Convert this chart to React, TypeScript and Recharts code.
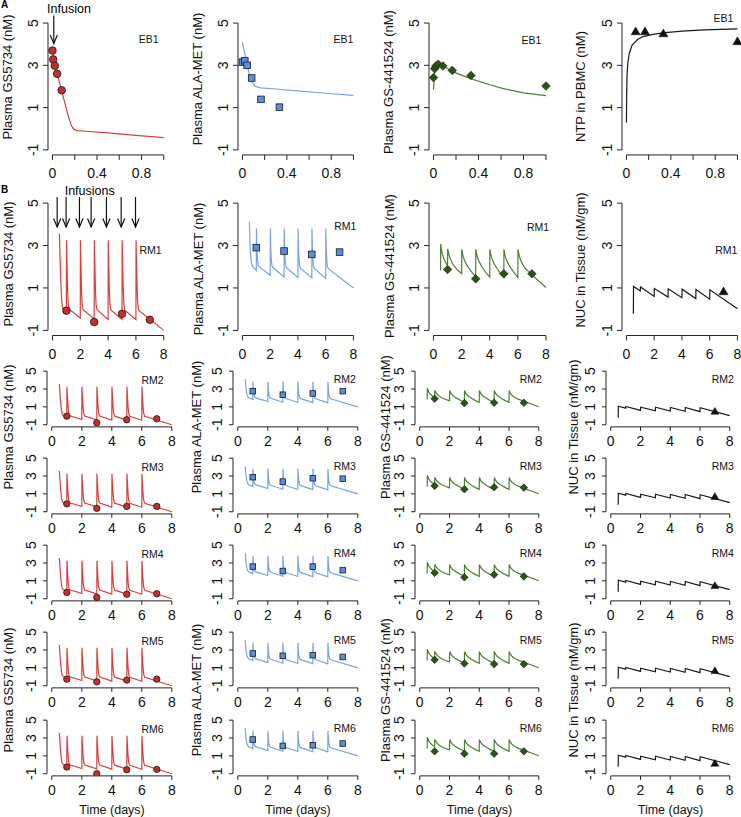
import React from "react";
import {
  ComposedChart,
  Line,
  Scatter,
  XAxis,
  YAxis,
  ReferenceLine,
  ReferenceDot,
} from "recharts";

const FONT = '"Liberation Sans", Arial, Helvetica, sans-serif';

// ---- A: EB1, single infusion (days vs log concentration) ----
const ebGsDays = [0, 0.007, 0.021, 0.042, 0.083];
const ebGsObs = [3.7, 3.28, 2.98, 2.6, 1.82];
const ebAlaDays = [0, 0.021, 0.042, 0.083, 0.167, 0.333];
const ebAlaObs = [3.15, 3.22, 3.0, 2.4, 1.39, 1.02];
const ebNucDays = [0, 0.01, 0.021, 0.042, 0.083, 0.167, 0.333, 1.0];
const ebNucObs = [2.42, 2.84, 2.97, 3.05, 2.97, 2.76, 2.52, 2.02];
const ebNtpDays = [0.083, 0.167, 0.333, 1.0];
const ebNtpObs = [4.6, 4.6, 4.5, 4.13];

const ebGsFit = [
  [0, 3.7], [0.02, 3.05], [0.05, 2.45], [0.08, 1.85], [0.11, 1.25], [0.14, 0.65],
  [0.17, 0.15], [0.19, -0.02], [0.22, -0.09], [0.3, -0.12], [0.5, -0.2], [0.75, -0.31], [1.0, -0.42],
];
const ebAlaFit = [
  [0, 4.1], [0.027, 3.4], [0.057, 2.68], [0.087, 2.21], [0.117, 2.0], [0.16, 1.93],
  [0.3, 1.88], [0.52, 1.78], [0.75, 1.68], [1.0, 1.58],
];
const ebNucFit = [
  [0, 1.85], [0.01, 2.7], [0.025, 2.95], [0.05, 3.02], [0.1, 2.92], [0.18, 2.68],
  [0.33, 2.37], [0.5, 2.08], [0.62, 1.9], [0.8, 1.7], [1.0, 1.57],
];
const ebNtpFit = [
  [0, 0.3], [0.002, 1.5], [0.005, 2.5], [0.012, 3.1], [0.025, 3.55], [0.05, 3.95],
  [0.1, 4.22], [0.15, 4.36], [0.25, 4.48], [0.35, 4.55], [0.5, 4.62], [0.7, 4.68], [1.0, 4.73],
];

// ---- B: RM1-RM6, daily infusions ----
const animals = ["RM1", "RM2", "RM3", "RM4", "RM5", "RM6"];
const obsDays = [1, 3, 5, 7];
const gsObsRM = [
  [-0.07, -0.61, -0.22, -0.5],
  [-0.04, -0.78, -0.44, -0.33],
  [-0.12, -0.62, -0.4, -0.4],
  [-0.3, -0.85, -0.5, -0.45],
  [-0.26, -0.56, -0.37, -0.26],
  [-0.25, -1.0, -0.55, -0.51],
];
const alaObsRM = [
  [2.9, 2.74, 2.58, 2.69],
  [2.76, 2.36, 2.5, 2.76],
  [2.87, 2.37, 2.75, 2.7],
  [2.6, 2.1, 2.6, 2.2],
  [2.61, 2.35, 2.42, 2.23],
  [2.83, 2.11, 2.19, 2.38],
];
const nucObsRM = [
  [1.87, 1.43, 1.67, 1.67],
  [1.91, 1.42, 1.46, 1.46],
  [1.89, 1.52, 1.74, 1.7],
  [1.9, 1.4, 1.7, 1.5],
  [1.9, 1.49, 1.42, 1.42],
  [1.51, 1.25, 1.25, 1.51],
];
const tissueDay = [7];
const tissueObsRM = [0.83, 0.49, 0.69, 0.45, 0.67, 0.15];

const rmGsFit = [
  [0.5, 3.56], [0.55, 2.4], [0.6, 1.3], [0.65, 0.55], [0.7, 0.15], [0.78, 0.0], [1.0, -0.08],
  [1.01, 3.25], [1.05, 2.0], [1.09, 0.9], [1.13, 0.25], [1.2, 0.0], [2.0, -0.42],
  [2.01, 3.25], [2.05, 2.0], [2.09, 0.9], [2.13, 0.25], [2.2, -0.02], [3.0, -0.46],
  [3.01, 3.25], [3.05, 2.0], [3.09, 0.9], [3.13, 0.25], [3.2, -0.03], [4.0, -0.48],
  [4.01, 3.25], [4.05, 2.0], [4.09, 0.9], [4.13, 0.25], [4.2, -0.04], [5.0, -0.49],
  [5.01, 3.25], [5.05, 2.0], [5.09, 0.9], [5.13, 0.25], [5.2, -0.05], [6.0, -0.5],
  [6.01, 3.25], [6.05, 2.0], [6.09, 0.9], [6.13, 0.25], [6.2, -0.06], [8.0, -1.0],
];
const rmAlaFit = [
  [0.5, 4.1], [0.55, 3.0], [0.6, 2.45], [0.66, 2.15], [0.75, 2.0], [1.0, 1.82],
  [1.01, 3.8], [1.04, 2.9], [1.08, 2.35], [1.13, 2.1], [1.2, 2.0], [2.0, 1.6],
  [2.01, 3.8], [2.04, 2.9], [2.08, 2.3], [2.13, 2.05], [2.2, 1.96], [3.0, 1.52],
  [3.01, 3.8], [3.04, 2.9], [3.08, 2.3], [3.13, 2.03], [3.2, 1.93], [4.0, 1.49],
  [4.01, 3.8], [4.04, 2.9], [4.08, 2.3], [4.13, 2.02], [4.2, 1.92], [5.0, 1.47],
  [5.01, 3.8], [5.04, 2.9], [5.08, 2.3], [5.13, 2.01], [5.2, 1.91], [6.0, 1.45],
  [6.01, 3.8], [6.04, 2.9], [6.08, 2.3], [6.13, 2.0], [6.2, 1.9], [8.0, 1.0],
];
const rmNucFit = [
  [0.5, 1.82], [0.51, 3.08], [0.56, 2.85], [0.62, 2.62], [0.7, 2.45], [0.8, 2.28], [0.9, 2.16], [1.0, 2.06],
  [1.01, 2.85], [1.1, 2.56], [1.2, 2.36], [1.35, 2.15], [1.5, 2.0], [1.75, 1.82], [2.0, 1.67],
  [2.01, 2.82], [2.1, 2.5], [2.2, 2.3], [2.35, 2.1], [2.5, 1.95], [2.75, 1.72], [3.0, 1.55],
  [3.01, 2.82], [3.1, 2.5], [3.2, 2.3], [3.35, 2.1], [3.5, 1.94], [3.75, 1.7], [4.0, 1.52],
  [4.01, 2.82], [4.1, 2.5], [4.2, 2.3], [4.35, 2.1], [4.5, 1.94], [4.75, 1.7], [5.0, 1.51],
  [5.01, 2.82], [5.1, 2.5], [5.2, 2.3], [5.35, 2.1], [5.5, 1.94], [5.75, 1.7], [6.0, 1.5],
  [6.01, 2.82], [6.1, 2.5], [6.2, 2.3], [6.35, 2.1], [6.5, 1.94], [6.75, 1.78], [7.0, 1.62],
  [7.5, 1.32], [8.0, 1.02],
];
const rmTissueFit = [
  [0.5, -0.22], [0.51, 1.07], [1.0, 0.86], [1.01, 1.05], [2.0, 0.6], [2.01, 0.97],
  [3.0, 0.57], [3.01, 0.96], [4.0, 0.54], [4.01, 0.94], [5.0, 0.5], [5.01, 0.93],
  [6.0, 0.47], [6.01, 0.91], [8.0, 0.02],
];

const infusionDays = [0.34, 0.98, 1.94, 2.78, 3.88, 4.94, 5.97];
const yTicks = [-1, 1, 3, 5];
const ebTicks = [0, 0.2, 0.4, 0.6, 0.8, 1.0];
const ebTickLabels = ["0", "", "0.4", "", "0.8", ""];
const dayTicks = [0, 2, 4, 6, 8];
const dayTickLabels = ["0", "2", "4", "6", "8"];

const topTitles = ["Plasma GS5734 (nM)", "Plasma ALA-MET (nM)", "Plasma GS-441524 (nM)", "NTP in PBMC (nM)"];
const rmTitles = ["Plasma GS5734 (nM)", "Plasma ALA-MET (nM)", "Plasma GS-441524 (nM)", "NUC in Tissue (nM/gm)"];

// layout (page pixels)
const rowGeo = [
  { y5: 22.7, ym1: 149.5 },
  { y5: 202.7, ym1: 330 },
  { y5: 370.7, ym1: 424.3 },
  { y5: 458, ym1: 511.6 },
  { y5: 545.3, ym1: 598.9 },
  { y5: 632.6, ym1: 686.2 },
  { y5: 719.9, ym1: 773.5 },
];
const colTop = [[52, 163.3], [242, 353], [433.5, 546], [626, 737]];
const colRM = [[52, 172], [238, 358], [420, 539], [611, 730]];

const lineColors = ["#d8413b", "#79a2ea", "#4f7f35", "#1a1a1a"];
const markFills = ["#c3302b", "#5b8ddc", "#2b5317", "#111111"];

const ebTagAt = [[0.865, 4.23], [0.91, 4.23], [0.87, 4.18], [0.874, 5.2]];
const rm1TagAt = [[7.05, 2.77], [7.42, 3.9], [7.44, 3.87], [7.2, 2.77]];
const rmTagAt = [[6.72, 3.98], [7.13, 4.05], [7.46, 4.04], [7.53, 4.04]];

type Pt = { t: number; v: number };
const toPts = (pairs: number[][]): Pt[] => pairs.map(([t, v]) => ({ t, v }));
const zipPts = (ts: number[], vs: number[]): Pt[] => ts.map((t, i) => ({ t, v: vs[i] }));

function marker(col: number, big: boolean) {
  const fill = markFills[col];
  const stroke = "#1a1a1a";
  return (s: any) => {
    const { cx, cy } = s;
    if (col === 0) {
      const r = big ? 3.8 : 3.2;
      return <circle cx={cx} cy={cy} r={r} fill={fill} stroke={stroke} strokeWidth={0.8} />;
    }
    if (col === 1) {
      const h = big ? 3.3 : 2.8;
      return <rect x={cx - h} y={cy - h} width={2 * h} height={2 * h} fill={fill} stroke={stroke} strokeWidth={0.8} />;
    }
    if (col === 2) {
      const h = big ? 4.3 : 3.8;
      return (
        <polygon
          points={`${cx},${cy - h} ${cx + h},${cy} ${cx},${cy + h} ${cx - h},${cy}`}
          fill={fill}
          stroke={stroke}
          strokeWidth={0.6}
        />
      );
    }
    const h = big ? 4.6 : 4.0;
    return (
      <polygon
        points={`${cx},${cy - h} ${cx + h},${cy + h * 0.7} ${cx - h},${cy + h * 0.7}`}
        fill={fill}
        stroke={fill}
        strokeWidth={0.5}
      />
    );
  };
}

function YTick(props: any) {
  const { x, y, payload } = props;
  return (
    <text
      x={x}
      y={y}
      transform={`rotate(-90 ${x} ${y})`}
      textAnchor="middle"
      fontSize={14}
      fontFamily={FONT}
      fill="#111"
    >
      {payload.value}
    </text>
  );
}

const arrowShape = (len: number) => (s: any) => (
  <g stroke="#111" strokeWidth={1.2} fill="none">
    <line x1={s.cx} y1={s.cy - len} x2={s.cx} y2={s.cy} />
    <polyline points={`${s.cx - 3.6},${s.cy - 8.5} ${s.cx},${s.cy} ${s.cx + 3.6},${s.cy - 8.5}`} />
  </g>
);

interface PanelProps {
  col: number;
  x0: number;
  x1: number;
  y5: number;
  ym1: number;
  xMax: number;
  xTicks: number[];
  xLabels: string[];
  fit: Pt[];
  obs: Pt[];
  tag: string;
  tagAt: number[];
  big: boolean;
  arrows?: number[];
  arrowTip?: number;
  arrowLen?: number;
}

function Panel(p: PanelProps) {
  const xr = p.x1 - p.x0;
  const yr = p.ym1 - p.y5;
  const plotLeft = p.x0 - 0.04 * xr;
  const plotTop = p.y5 - 0.04 * yr;
  const plotW = 1.08 * xr;
  const plotH = 1.08 * yr;
  const yw = 40;
  const xh = 40;
  const mt = 30;
  const mr = 24;
  const xPad = 0.04 * p.xMax;
  const tickSize = p.big ? 5 : 4;

  return (
    <div style={{ position: "absolute", left: plotLeft - yw, top: plotTop - mt }}>
      <ComposedChart
        width={plotW + yw + mr}
        height={plotH + mt + xh}
        margin={{ top: mt, right: mr, bottom: 0, left: 0 }}
      >
        <XAxis
          type="number"
          dataKey="t"
          domain={[-xPad, p.xMax + xPad]}
          ticks={p.xTicks}
          interval={0}
          allowDataOverflow
          axisLine={false}
          tickLine={{ stroke: "#222" }}
          tickSize={tickSize}
          tickMargin={p.big ? 8.5 : 5.5}
          height={xh}
          tickFormatter={(_: any, i: number) => p.xLabels[i]}
          tick={{ fill: "#111", fontSize: 14, fontFamily: FONT }}
        />
        <YAxis
          type="number"
          dataKey="v"
          domain={[-1.24, 5.24]}
          ticks={yTicks}
          interval={0}
          allowDataOverflow
          axisLine={false}
          tickLine={{ stroke: "#222" }}
          tickSize={tickSize}
          tickMargin={p.big ? 5 : 7}
          width={yw}
          tick={<YTick />}
        />
        <ReferenceLine
          segment={[{ x: -xPad, y: -1 }, { x: -xPad, y: 5 }]}
          stroke="#222"
          ifOverflow="visible"
        />
        <ReferenceLine
          segment={[{ x: 0, y: -1.24 }, { x: p.xMax, y: -1.24 }]}
          stroke="#222"
          ifOverflow="visible"
        />
        <Line
          data={p.fit}
          dataKey="v"
          type="linear"
          stroke={lineColors[p.col]}
          strokeWidth={1.2}
          dot={false}
          activeDot={false}
          isAnimationActive={false}
        />
        <Scatter data={p.obs} shape={marker(p.col, p.big)} isAnimationActive={false} />
        <ReferenceDot
          x={p.tagAt[0]}
          y={p.tagAt[1]}
          ifOverflow="visible"
          shape={(s: any) => (
            <text
              x={s.cx}
              y={s.cy}
              textAnchor="middle"
              dominantBaseline="central"
              fontSize={10.5}
              fontFamily={FONT}
              fill="#111"
            >
              {p.tag}
            </text>
          )}
        />
        {(p.arrows || []).map((d, i) => (
          <ReferenceDot
            key={i}
            x={d}
            y={p.arrowTip}
            ifOverflow="visible"
            shape={arrowShape(p.arrowLen || 28)}
          />
        ))}
      </ComposedChart>
    </div>
  );
}

const fitsTop = [ebGsFit, ebAlaFit, ebNucFit, ebNtpFit];
const obsTop = [
  zipPts(ebGsDays, ebGsObs),
  zipPts(ebAlaDays, ebAlaObs),
  zipPts(ebNucDays, ebNucObs),
  zipPts(ebNtpDays, ebNtpObs),
];
const fitsRM = [rmGsFit, rmAlaFit, rmNucFit, rmTissueFit];

export default function App() {
  const panels: React.ReactElement[] = [];

  colTop.forEach(([x0, x1], c) => {
    panels.push(
      <Panel
        key={`a${c}`}
        col={c}
        x0={x0}
        x1={x1}
        y5={rowGeo[0].y5}
        ym1={rowGeo[0].ym1}
        xMax={1}
        xTicks={ebTicks}
        xLabels={ebTickLabels}
        fit={toPts(fitsTop[c])}
        obs={obsTop[c]}
        tag="EB1"
        tagAt={ebTagAt[c]}
        big
        arrows={c === 0 ? [0.012] : undefined}
        arrowTip={4.03}
        arrowLen={28}
      />
    );
  });

  animals.forEach((name, r) => {
    const geo = rowGeo[r + 1];
    const cols = r === 0 ? colTop : colRM;
    const obsSets = [
      zipPts(obsDays, gsObsRM[r]),
      zipPts(obsDays, alaObsRM[r]),
      zipPts(obsDays, nucObsRM[r]),
      zipPts(tissueDay, [tissueObsRM[r]]),
    ];
    cols.forEach(([x0, x1], c) => {
      panels.push(
        <Panel
          key={`${name}${c}`}
          col={c}
          x0={x0}
          x1={x1}
          y5={geo.y5}
          ym1={geo.ym1}
          xMax={8}
          xTicks={dayTicks}
          xLabels={dayTickLabels}
          fit={toPts(fitsRM[c])}
          obs={obsSets[c]}
          tag={name}
          tagAt={r === 0 ? rm1TagAt[c] : rmTagAt[c]}
          big={r === 0}
          arrows={r === 0 && c === 0 ? infusionDays : undefined}
          arrowTip={3.87}
          arrowLen={30}
        />
      );
    });
  });

  const titleStyle = { fontSize: 13, fontFamily: FONT, fill: "#111" };
  const topX = [12, 201.5, 392.5, 584.5];
  const topY = [77, 79, 82, 86.5];
  const rm1X = [13, 203, 393.7, 584.7];
  const rm1Y = [264, 269, 266, 260];
  const rmX = [13, 201.4, 390, 578];
  const timeX = [112, 298, 479.5, 670.5];

  return (
    <div style={{ position: "absolute", left: 0, top: 0, width: 741, height: 817, background: "#fff" }}>
      {panels}
      <svg
        width={741}
        height={817}
        style={{ position: "absolute", left: 0, top: 0, pointerEvents: "none" }}
      >
        <text x={1} y={8} fontSize={10} fontWeight="bold" fontFamily={FONT}>A</text>
        <text x={1} y={193} fontSize={10} fontWeight="bold" fontFamily={FONT}>B</text>
        <text x={69} y={12.5} textAnchor="middle" fontSize={12.5} fontFamily={FONT}>Infusion</text>
        <text x={89.7} y={195} textAnchor="middle" fontSize={12.5} fontFamily={FONT}>Infusions</text>
        {topTitles.map((t, i) => (
          <text key={`tt${i}`} x={topX[i]} y={topY[i]} transform={`rotate(-90 ${topX[i]} ${topY[i]})`} textAnchor="middle" {...titleStyle}>
            {t}
          </text>
        ))}
        {rmTitles.map((t, i) => (
          <text key={`r1${i}`} x={rm1X[i]} y={rm1Y[i]} transform={`rotate(-90 ${rm1X[i]} ${rm1Y[i]})`} textAnchor="middle" {...titleStyle}>
            {t}
          </text>
        ))}
        {[427, 690].map((cy) =>
          rmTitles.map((t, i) => (
            <text key={`rg${cy}${i}`} x={rmX[i]} y={cy} transform={`rotate(-90 ${rmX[i]} ${cy})`} textAnchor="middle" {...titleStyle}>
              {t}
            </text>
          ))
        )}
        {timeX.map((x, i) => (
          <text key={`tx${i}`} x={x} y={814} textAnchor="middle" fontSize={12.5} fontFamily={FONT} fill="#111">
            Time (days)
          </text>
        ))}
      </svg>
    </div>
  );
}
